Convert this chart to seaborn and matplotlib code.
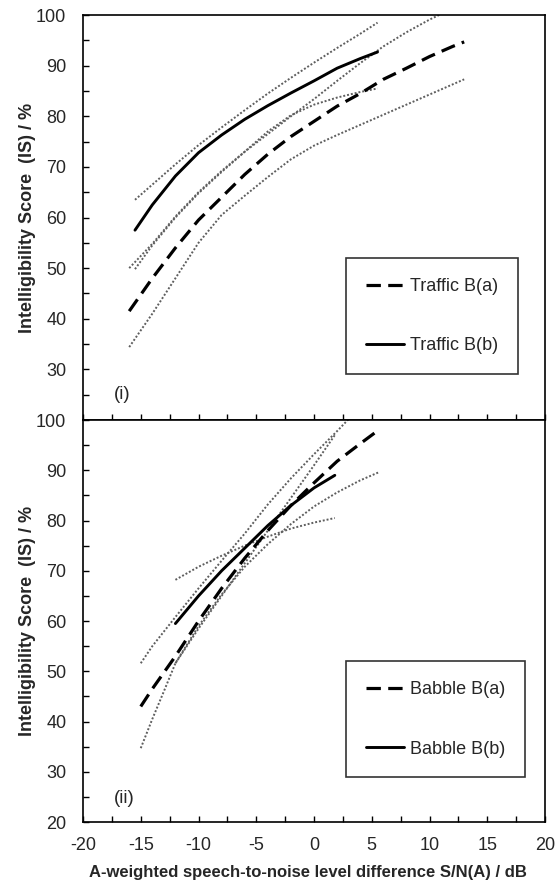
import matplotlib
matplotlib.use("Agg")
import matplotlib.pyplot as plt
import seaborn as sns
from matplotlib.ticker import MultipleLocator

# panel (i) - traffic noise
traffic_a_x = [-16, -14, -12, -10, -8, -6, -4, -2, 0, 2, 4, 6, 8, 10, 12, 13]
traffic_a = [41.5, 48, 54, 59.5, 64, 68.5, 72.5, 76, 79, 82, 84.5, 87.3, 89.5, 91.8, 93.8, 94.7]
traffic_a_lo = [34.4, 41, 48, 55, 60.5, 64.3, 68, 71.5, 74.2, 76.3, 78.3, 80.3, 82.3, 84.3, 86.3, 87.3]
traffic_a_hi_x = [-16, -14, -12, -10, -8, -6, -4, -2, 0, 2, 4, 6, 8, 10, 11]
traffic_a_hi = [50, 54.8, 60.2, 65, 69.2, 73, 76.5, 80, 83.4, 87, 90.5, 93.8, 96.6, 99.1, 100.2]

traffic_b_x = [-15.5, -14, -12, -10, -8, -6, -4, -2, 0, 2, 4, 5.5]
traffic_b = [57.5, 62.5, 68.2, 72.8, 76.3, 79.4, 82.1, 84.6, 87, 89.5, 91.4, 92.7]
traffic_b_hi = [63.5, 66.5, 70.5, 74.3, 77.8, 81.2, 84.5, 87.6, 90.6, 93.5, 96.3, 98.5]
traffic_b_lo = [49.8, 54.5, 60, 64.8, 69, 73, 77, 80.2, 82.3, 83.7, 84.8, 85.5]

# panel (ii) - babble noise
babble_a_x = [-15, -14, -12, -10, -8, -6, -4, -2, 0, 2, 4, 5.7]
babble_a = [43, 46.5, 53, 60, 66.5, 72.5, 78, 83, 87.5, 91.8, 95.3, 98.2]
babble_a_lo_x = [-15, -14, -13, -12, -10, -8, -6, -4, -2, 0, 2, 4, 5.7]
babble_a_lo = [34.7, 40.5, 46, 51.6, 59, 65.3, 70.8, 75.3, 79.3, 82.8, 85.6, 88, 89.7]
babble_a_hi_x = [-15, -14, -12, -10, -8, -6, -4, -2, 0, 2, 3]
babble_a_hi = [51.6, 55, 60.8, 66.5, 72, 77.4, 83.2, 88.4, 93.2, 97.8, 100.2]

babble_b_x = [-12, -10, -8, -6, -4, -2, 0, 1.8]
babble_b = [59.5, 65, 70, 74.5, 79, 83, 86.5, 89]
babble_b_flat = [68.2, 70.8, 73, 75, 76.8, 78.4, 79.6, 80.5]
babble_b_steep = [51.6, 58.5, 65, 71.5, 78, 84.5, 91, 97]

sns.set_style("ticks")
plt.rcParams["font.family"] = ["Liberation Sans", "DejaVu Sans"]
plt.rcParams["axes.unicode_minus"] = False

DASH = (0, (4.5, 2.3))
DOT = (0, (1, 1))
DOT_COL = "#5e5e5e"

fig = plt.figure(figsize=(5.59, 8.86), dpi=100)
ax1 = fig.add_axes([0.1485, 0.526, 0.8265, 0.457])
ax2 = fig.add_axes([0.1485, 0.0722, 0.8265, 0.4537])


def dotted(ax, x, y):
    sns.lineplot(x=x, y=y, ax=ax, color=DOT_COL, linewidth=1.4, linestyle=DOT)


# top panel
dotted(ax1, traffic_b_x, traffic_b_hi)
dotted(ax1, traffic_b_x, traffic_b_lo)
dotted(ax1, traffic_a_hi_x, traffic_a_hi)
dotted(ax1, traffic_a_x, traffic_a_lo)
sns.lineplot(x=traffic_a_x, y=traffic_a, ax=ax1, color="black", linewidth=2.3,
             linestyle=DASH, label="Traffic B(a)")
sns.lineplot(x=traffic_b_x, y=traffic_b, ax=ax1, color="black", linewidth=2.1,
             label="Traffic B(b)")

# bottom panel
dotted(ax2, babble_a_hi_x, babble_a_hi)
dotted(ax2, babble_a_lo_x, babble_a_lo)
dotted(ax2, babble_b_x, babble_b_flat)
dotted(ax2, babble_b_x, babble_b_steep)
sns.lineplot(x=babble_a_x, y=babble_a, ax=ax2, color="black", linewidth=2.3,
             linestyle=DASH, label="Babble B(a)")
sns.lineplot(x=babble_b_x, y=babble_b, ax=ax2, color="black", linewidth=2.1,
             label="Babble B(b)")

for ax in (ax1, ax2):
    ax.set_xlim(-20, 20)
    ax.set_ylim(20, 100)
    ax.xaxis.set_major_locator(MultipleLocator(5))
    ax.xaxis.set_minor_locator(MultipleLocator(2.5))
    ax.yaxis.set_minor_locator(MultipleLocator(5))
    ax.tick_params(which="both", direction="in", length=4, width=1,
                   top=False, right=False, labelsize=13, color="black")
    ax.tick_params(axis="y", pad=12)
    ax.tick_params(axis="x", pad=11)
    for s in ax.spines.values():
        s.set_visible(True)
        s.set_linewidth(1.2)
        s.set_color("black")
    ax.set_ylabel("Intelligibility Score  (IS) / %", fontsize=13,
                  fontweight="bold")
    ax.yaxis.set_label_coords(-0.101, 0.5)
    leg = ax.legend(loc="upper left", bbox_to_anchor=(0.569, 0.40),
                    fontsize=13, frameon=True, fancybox=False,
                    edgecolor="black", handlelength=2.1, handletextpad=0.35,
                    labelspacing=2.35, borderpad=1.1, borderaxespad=0)
    leg.get_frame().set_linewidth(1.2)

ax1.set_yticks(range(30, 101, 10))
ax1.tick_params(axis="x", labelbottom=False)
ax1.set_xlabel("")
ax2.set_yticks(range(20, 101, 10))

ax1.text(-16.6, 25, "(i)", fontsize=13.5, ha="center", va="center")
ax2.text(-16.4, 24.6, "(ii)", fontsize=13.5, ha="center", va="center")

ax2.set_xlabel("A-weighted speech-to-noise level difference S/N(A) / dB",
               fontsize=12, fontweight="bold")
ax2.xaxis.set_label_coords(0.487, -0.108)

fig.savefig("out.png", dpi=100)
